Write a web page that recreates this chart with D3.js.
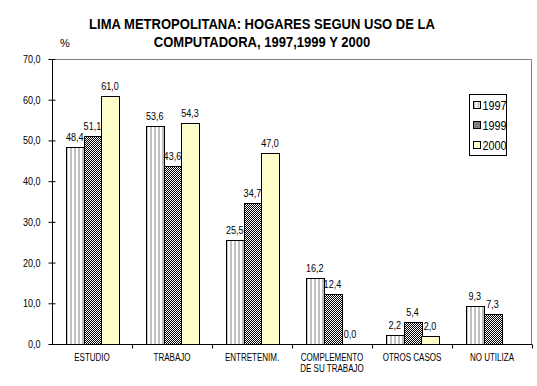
<!DOCTYPE html>
<html>
<head>
<meta charset="utf-8">
<script src="https://cdn.jsdelivr.net/npm/d3@7"></script>
<style>
body { margin: 0; background: #fff; }
svg { display: block; }
text { font-family: "Liberation Sans", Arial, sans-serif; }
</style>
</head>
<body>
<svg width="537" height="386"></svg>
<script>
var categories = ["ESTUDIO", "TRABAJO", "ENTRETENIM.", "COMPLEMENTO|DE SU TRABAJO", "OTROS CASOS", "NO  UTILIZA"];
var years = ["1997", "1999", "2000"];
var v1997 = [48.4, 53.6, 25.5, 16.2, 2.2, 9.3];
var v1999 = [51.1, 43.6, 34.7, 12.4, 5.4, 7.3];
var v2000 = [61.0, 54.3, 47.0, 0.0, 2.0, null];
var yTicks = [0, 10, 20, 30, 40, 50, 60, 70];

(function () {
	var svg = d3.select("svg");
	var margin = { top: 59, right: 5, bottom: 42, left: 52 },
		width = +svg.attr("width") - margin.left - margin.right,
		height = +svg.attr("height") - margin.top - margin.bottom,
		g = svg.append("g").attr("transform", "translate(" + margin.left + "," + margin.top + ")");

	// estrecha el texto (la fuente original es mas angosta)
	function narrow(sel, k) {
		sel.each(function () {
			var len = this.getComputedTextLength();
			d3.select(this).attr("textLength", len * k).attr("lengthAdjust", "spacingAndGlyphs");
		});
	}

	var defs = svg.append("defs");
	var p1 = defs.append("pattern").attr("id", "p1997").attr("patternUnits", "userSpaceOnUse")
		.attr("width", 4).attr("height", 4);
	p1.append("rect").attr("width", 4).attr("height", 4).attr("fill", "#fff");
	p1.append("rect").attr("x", 0).attr("width", 2).attr("height", 4).attr("fill", "#c0c0c0");
	var p2 = defs.append("pattern").attr("id", "p1999").attr("patternUnits", "userSpaceOnUse")
		.attr("width", 2).attr("height", 2);
	p2.append("rect").attr("width", 2).attr("height", 2).attr("fill", "#fff");
	p2.append("rect").attr("width", 1).attr("height", 1).attr("fill", "#000");
	p2.append("rect").attr("x", 1).attr("y", 1).attr("width", 1).attr("height", 1).attr("fill", "#000");
	var fills = { "1997": "url(#p1997)", "1999": "url(#p1999)", "2000": "#ffffcc" };

	var series = { "1997": v1997, "1999": v1999, "2000": v2000 };
	var data = categories.map(function (c, i) {
		return { cat: c, vals: years.map(function (yr) { return { year: yr, value: series[yr][i] }; }) };
	});

	var x0 = d3.scaleBand().domain(categories).range([0, width]).paddingInner(0.34).paddingOuter(0.17);
	var x1 = d3.scaleBand().domain(years).range([0, x0.bandwidth()]);
	var y = d3.scaleLinear().domain([0, 70]).range([height, 0]);
	var fmt = function (v) { return d3.format(".1f")(v).replace(".", ","); };

	// marco del area (gris)
	g.append("path")
		.attr("d", "M0,0.5H" + (width - 0.5) + "V" + height)
		.attr("fill", "none").attr("stroke", "#808080");

	// barras
	var grp = g.selectAll(".grp").data(data).enter().append("g")
		.attr("transform", function (d) { return "translate(" + Math.round(x0(d.cat)) + ",0)"; });
	grp.selectAll("rect")
		.data(function (d) { return d.vals.filter(function (v) { return v.value !== null && v.value > 0; }); })
		.enter().append("rect")
		.attr("x", function (d) { return Math.round(x1(d.year)) + 0.5; })
		.attr("y", function (d) { return Math.round(y(d.value)) + 0.5; })
		.attr("width", Math.round(x1.bandwidth()))
		.attr("height", function (d) { return height - Math.round(y(d.value)); })
		.attr("fill", function (d) { return fills[d.year]; })
		.attr("stroke", "#000").attr("stroke-width", 1);
	grp.selectAll(".lbl")
		.data(function (d) { return d.vals.filter(function (v) { return v.value !== null; }); })
		.enter().append("text")
		.attr("x", function (d) { return x1(d.year) + x1.bandwidth() / 2; })
		.attr("y", function (d) { return y(d.value) - 6; })
		.attr("text-anchor", "middle")
		.attr("font-size", "11px")
		.text(function (d) { return fmt(d.value); })
		.call(narrow, 0.82);

	// eje y
	var ya = g.append("g").attr("transform", "translate(0.5,0)")
		.call(d3.axisLeft(y).tickValues(yTicks).tickSize(4).tickFormat(fmt));
	ya.select(".domain").attr("d", "M0," + height + "V0");
	ya.selectAll(".tick line").attr("x1", -4).attr("x2", 3);
	ya.selectAll("text").attr("font-size", "11px").attr("font-family", null).attr("x", -12)
		.call(narrow, 0.82);

	// eje x
	var xa = g.append("g").attr("transform", "translate(0," + (height + 0.5) + ")");
	xa.append("line").attr("x1", 0).attr("x2", width).attr("stroke", "#000");
	xa.selectAll(".tk").data(d3.range(1, categories.length + 1)).enter().append("line")
		.attr("x1", function (i) { return Math.round(i * x0.step()) + 0.5; })
		.attr("x2", function (i) { return Math.round(i * x0.step()) + 0.5; })
		.attr("y1", 0).attr("y2", 4).attr("stroke", "#000");
	xa.selectAll(".xl").data(categories).enter().append("text")
		.attr("x", function (d) { return x0(d) + x0.bandwidth() / 2; })
		.attr("y", 16)
		.attr("text-anchor", "middle")
		.attr("font-size", "10px")
		.each(function (d) {
			var parts = d.split("|");
			var t = d3.select(this);
			parts.forEach(function (p, k) {
				t.append("tspan").attr("x", x0(d) + x0.bandwidth() / 2).attr("dy", k ? 11 : 0).text(p);
			});
		});
	xa.selectAll("tspan").call(narrow, 0.8);

	// etiqueta %
	svg.append("text").attr("x", 65).attr("y", 47).attr("text-anchor", "middle")
		.attr("font-size", "11px").text("%");

	// titulo
	var title = svg.append("text").attr("text-anchor", "middle").attr("font-size", "14px").attr("font-weight", "bold");
	title.append("tspan").attr("x", 262).attr("y", 29).text("LIMA METROPOLITANA: HOGARES SEGUN USO DE LA");
	title.append("tspan").attr("x", 262).attr("y", 47).text("COMPUTADORA, 1997,1999 Y 2000");
	title.selectAll("tspan").call(narrow, 0.93);

	// leyenda
	var lg = svg.append("g").attr("transform", "translate(469.5,94.5)");
	lg.append("rect").attr("width", 37).attr("height", 61).attr("fill", "#fff").attr("stroke", "#000");
	years.forEach(function (yr, i) {
		lg.append("rect").attr("x", 4).attr("y", 7 + i * 20).attr("width", 7).attr("height", 7)
			.attr("fill", fills[yr]).attr("stroke", "#000");
		lg.append("text").attr("x", 13).attr("y", 15 + i * 20).attr("font-size", "12px").text(yr)
			.call(narrow, 0.9);
	});
}) ();
</script>
</body>
</html>
